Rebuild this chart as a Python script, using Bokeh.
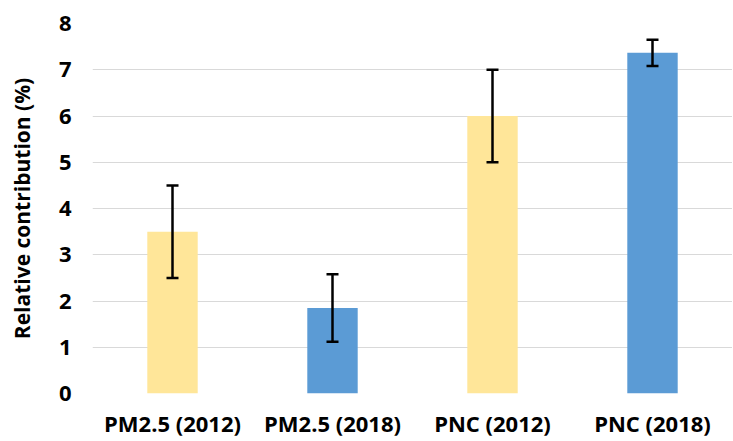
from bokeh.plotting import figure
from bokeh.models import ColumnDataSource, FactorRange, Range1d, Whisker, TeeHead, FixedTicker
from bokeh.embed import file_html
from bokeh.resources import INLINE

categories = ["PM2.5 (2012)", "PM2.5 (2018)", "PNC (2012)", "PNC (2018)"]
values = [3.5, 1.85, 6.0, 7.37]
err_lower = [2.5, 1.12, 5.0, 7.08]
err_upper = [4.5, 2.58, 7.0, 7.65]
colors = ["#FFE699", "#5B9BD5", "#FFE699", "#5B9BD5"]
y_ticks = [0, 1, 2, 3, 4, 5, 6, 7, 8]

FONT = "Open Sans"

src = ColumnDataSource(dict(cat=categories, val=values, lo=err_lower, hi=err_upper, col=colors))

p = figure(width=732, height=440, x_range=FactorRange(*categories), y_range=Range1d(0, 8),
           output_backend="svg", toolbar_location=None,
           min_border_left=92, min_border_right=0, min_border_top=23, min_border_bottom=45)
p.outline_line_color = None
p.vbar(x="cat", top="val", width=0.315, fill_color="col", line_color=None, source=src)

w = Whisker(base="cat", lower="lo", upper="hi", source=src, line_color="black", line_width=2.5,
            level="overlay",
            upper_head=TeeHead(size=12, line_width=2.5, line_color="black"),
            lower_head=TeeHead(size=12, line_width=2.5, line_color="black"))
p.add_layout(w)

p.yaxis.ticker = FixedTicker(ticks=y_ticks)
p.ygrid.grid_line_color = "#d9d9d9"
p.ygrid.grid_line_width = 1
p.xgrid.grid_line_color = None
p.xaxis.axis_line_color = None
p.yaxis.axis_line_color = None
for ax in (p.xaxis, p.yaxis):
    ax.major_tick_line_color = None
    ax.minor_tick_line_color = None
    ax.major_tick_out = 0
    ax.major_tick_in = 0
    ax.minor_tick_out = 0
    ax.minor_tick_in = 0
    ax.major_label_text_font = FONT
    ax.major_label_text_font_style = "bold"
    ax.major_label_text_font_size = "22px"
    ax.major_label_text_color = "black"
p.yaxis.major_label_standoff = 21
p.xaxis.major_label_standoff = 14
p.yaxis.axis_label = "Relative contribution (%)"
p.yaxis.axis_label_text_font = FONT
p.yaxis.axis_label_text_font_style = "bold"
p.yaxis.axis_label_text_font_size = "21px"
p.yaxis.axis_label_text_color = "black"
p.yaxis.axis_label_standoff = 20

open("out.html", "w").write(file_html(p, INLINE))
